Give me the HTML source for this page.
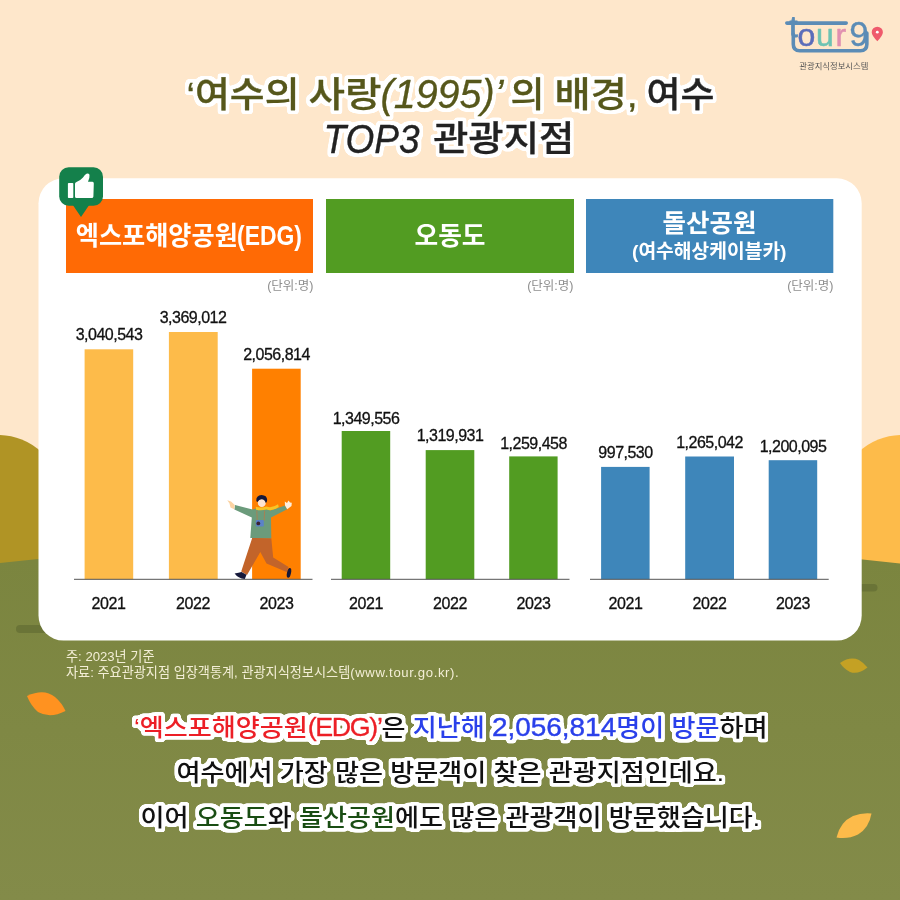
<!DOCTYPE html>
<html lang="ko">
<head>
<meta charset="utf-8">
<title>여수 TOP3 관광지점</title>
<style>
html,body{margin:0;padding:0;background:#fee7cb;}
body{width:900px;height:900px;overflow:hidden;position:relative;font-family:"Liberation Sans","Noto Sans CJK KR",sans-serif;}
svg{position:absolute;left:0;top:0;display:block}
text{font-family:"Liberation Sans","Noto Sans CJK KR",sans-serif;}
.num{font-size:16px;fill:#111;stroke:#111;stroke-width:0.3px;text-anchor:middle;letter-spacing:-0.5px}
.yr{font-size:16px;fill:#111;stroke:#111;stroke-width:0.3px;text-anchor:middle;letter-spacing:-0.4px}
.unit{font-size:12.5px;fill:#8e8e8e;text-anchor:end}
.hd{font-weight:bold;fill:#fff}
.note{font-size:13.15px;fill:#f3eed6}
.body{font-size:24.3px;font-weight:500;fill:#111;stroke:none;stroke-width:0.4px;stroke-linejoin:round;filter:url(#ol)}
.body .l{font-size:26px;letter-spacing:0px;stroke-width:0.4px}.body .e{font-size:25px;letter-spacing:-1.3px;stroke-width:0.3px}
.title{font-weight:500;stroke-width:0.3px;stroke-linejoin:round;filter:url(#ol)}
.t1{fill:#56571b;stroke:#56571b}
.t2{fill:#222;stroke:#222}
</style>
</head>
<body>
<svg width="900" height="900" viewBox="0 0 900 900">
<defs>
<filter id="ol" x="-20%" y="-40%" width="140%" height="180%" color-interpolation-filters="sRGB">
<feMorphology in="SourceAlpha" operator="dilate" radius="3.1" result="d"/>
<feGaussianBlur in="d" stdDeviation="1.1" result="b"/>
<feComponentTransfer in="b" result="t"><feFuncA type="linear" slope="6" intercept="-1.2"/></feComponentTransfer>
<feFlood flood-color="#ffffff" result="f"/>
<feComposite in="f" in2="t" operator="in" result="w"/>
<feMerge><feMergeNode in="w"/><feMergeNode in="SourceGraphic"/></feMerge>
</filter>
<linearGradient id="gg" x1="0" y1="560" x2="0" y2="900" gradientUnits="userSpaceOnUse"><stop offset="0" stop-color="#7b853f"/><stop offset="1" stop-color="#838b49"/></linearGradient>
</defs>
<!-- background -->
<rect width="900" height="900" fill="#fee7cb"/>
<path d="M-64,600 V495 A62,60 0 0 1 60,495 V600 Z" fill="#b09425"/>
<path d="M840,600 V495 A62,60 0 0 1 964,495 V600 Z" fill="#fdbb4a"/>
<path d="M0,563 Q450,512 900,563.500 V900 H0 Z" fill="url(#gg)"/>
<rect x="16" y="625" width="60" height="8" rx="4" fill="#6a7437"/>
<rect x="820" y="584" width="57.500" height="7.500" rx="3.750" fill="#6a7437"/>
<!-- leaves -->
<path d="M27,696 Q44,688 55,697 Q62,703 65.500,711 Q50,719 38,712 Q31,706 27,696 Z" fill="#ff9220"/>
<path d="M840,663 Q850,656 859,660 Q864,663 867.500,667.500 Q858,675 850,672 Q844,669 840,663 Z" fill="#c4a124"/>
<path d="M836.500,837.500 Q840,822 853,816 Q862,812.500 871.500,813.500 Q869,828 858,834.500 Q848,839.500 836.500,837.500 Z" fill="#fdbb4a"/>
<!-- card -->
<rect x="38.500" y="178.300" width="823.200" height="462.300" rx="25" fill="#ffffff"/>
<!-- headers -->
<rect x="66" y="199" width="247" height="74" fill="#ff6a05"/>
<rect x="326" y="199" width="248" height="74" fill="#529c22"/>
<rect x="586" y="199" width="247.300" height="74" fill="#3e86ba"/>
<text class="hd"><tspan x="75.800" y="244.500" font-size="26" textLength="162" lengthAdjust="spacingAndGlyphs">엑스포해양공원</tspan><tspan x="237" y="244.500" font-size="27" textLength="65" lengthAdjust="spacingAndGlyphs">(EDG)</tspan></text>
<text class="hd" x="414.500" y="244.500" font-size="26" textLength="71" lengthAdjust="spacingAndGlyphs">오동도</text>
<text class="hd" x="662.500" y="232.400" font-size="25.500" textLength="94" lengthAdjust="spacingAndGlyphs">돌산공원</text>
<text class="hd" x="632" y="257.500" font-size="19" textLength="154.500" lengthAdjust="spacingAndGlyphs">(여수해상케이블카)</text>
<text class="unit" x="313.500" y="290.300">(단위:명)</text>
<text class="unit" x="573.500" y="290.300">(단위:명)</text>
<text class="unit" x="833.500" y="290.300">(단위:명)</text>
<!-- chart 1 -->
<rect x="84.600" y="349.300" width="48.600" height="230" fill="#fdbb4a"/>
<rect x="168.900" y="332" width="48.800" height="247.300" fill="#fdbb4a"/>
<rect x="252.100" y="368.700" width="48.600" height="210.600" fill="#ff8000"/>
<rect x="74" y="578.800" width="238.500" height="1" fill="#555"/>
<text class="num" x="109" y="340">3,040,543</text>
<text class="num" x="193" y="322.500">3,369,012</text>
<text class="num" x="276.500" y="359.500">2,056,814</text>
<text class="yr" x="108.500" y="608.800">2021</text>
<text class="yr" x="193" y="608.800">2022</text>
<text class="yr" x="276.500" y="608.800">2023</text>
<!-- chart 2 -->
<rect x="341.700" y="431" width="48.500" height="148.300" fill="#529c22"/>
<rect x="425.700" y="450.100" width="48.600" height="129.200" fill="#529c22"/>
<rect x="509.200" y="456.400" width="48.400" height="122.900" fill="#529c22"/>
<rect x="331" y="578.800" width="238.500" height="1" fill="#555"/>
<text class="num" x="366" y="423.800">1,349,556</text>
<text class="num" x="450" y="441.300">1,319,931</text>
<text class="num" x="533.500" y="448.800">1,259,458</text>
<text class="yr" x="366" y="608.800">2021</text>
<text class="yr" x="450" y="608.800">2022</text>
<text class="yr" x="533.500" y="608.800">2023</text>
<!-- chart 3 -->
<rect x="601.100" y="466.900" width="48.500" height="112.400" fill="#3e86ba"/>
<rect x="685.200" y="456.500" width="48.800" height="122.800" fill="#3e86ba"/>
<rect x="768.700" y="460.200" width="48.500" height="119.100" fill="#3e86ba"/>
<rect x="590" y="578.800" width="238.700" height="1" fill="#555"/>
<text class="num" x="625.500" y="457.700" letter-spacing="-0.1">997,530</text>
<text class="num" x="709.500" y="448">1,265,042</text>
<text class="num" x="793" y="451.500">1,200,095</text>
<text class="yr" x="625.500" y="608.800">2021</text>
<text class="yr" x="709.500" y="608.800">2022</text>
<text class="yr" x="793" y="608.800">2023</text>
<!-- badge -->
<g fill="#14804b">
<rect x="59.200" y="167.200" width="43.800" height="38.500" rx="9.500"/>
<path d="M72.800,205 L81,217 L89.200,205 Z"/>
</g>
<g fill="#fff">
<rect x="67.900" y="183" width="5.400" height="15" rx="0.800"/>
<path d="M75,183.800 Q75,182.600 76.500,181.900 Q81,180 83,177.500 Q85,174.500 86.500,173.700 Q88.600,173.100 89.500,174.800 Q89.900,177.500 88,181.800 L92.500,181.800 Q93.800,182 93.800,183.500 L93.400,196.500 Q93.200,198 91.800,198 L76.500,198 Q75,198 75,196.500 Z"/>
</g>
<!-- person -->
<g>
<path d="M252.200,538 L271.300,538.300 L273.200,557.500 L288.600,567 L286.600,572 L266.500,563.500 L260.300,552 L247,575 L241.200,571.500 Z" fill="#c2642a"/>
<path d="M234.600,573.600 Q239,572.500 241.500,572 L246.500,574.800 L244.800,579 Q238,578.500 234.600,573.600 Z" fill="#15183a"/>
<ellipse cx="289" cy="572.800" rx="2" ry="5" transform="rotate(12 289 572.800)" fill="#15183a"/>
<path d="M235,505 L252.500,509.400 L257,508.200 L266,508.500 L270.400,510.600 L285,505.600 L287.200,509.200 L271,517.600 L271.300,538.300 L250.300,538 L251.800,517.600 L234.400,509.400 Z" fill="#6b9b7b"/>
<path d="M227.300,500.300 L231,501.600 L234.800,505 L234.200,509.200 L230.500,507.500 L229.500,503.500 Z" fill="#fbd3a3"/>
<path d="M285,505.600 L284.800,501.500 L287,503 L288.500,500.500 L290,502.500 L291.800,502.800 L291.500,506 L287.200,509.200 Z" fill="#fdeedd"/>
<ellipse cx="261.800" cy="502.800" rx="4" ry="4.300" fill="#fde4d2"/>
<path d="M256.300,500.500 Q256,495.500 261.500,495 Q267,495.200 267.200,500 Q267,502.500 265.800,503 Q264.800,499.500 261.500,499.300 Q259,499.500 257.500,502 Q256.400,501.500 256.300,500.500 Z" fill="#15183a"/>
<path d="M255.800,506.800 Q261,508.500 266.500,506.500 Q272,508.500 278,504.200 L278.800,507 Q272.500,511.500 266.500,509.600 Q261,511 256,509.800 Z" fill="#f8c425"/>
<path d="M256.800,510.500 L257.200,520 M264.600,510.500 L264.200,520.500" stroke="#b57a4a" stroke-width="0.800" fill="none"/>
<rect x="255.800" y="520" width="8" height="6.600" rx="1" fill="#5b82c8"/>
<circle cx="258.300" cy="523.400" r="1.900" fill="#3a2233"/>
</g>
<!-- logo -->
<g fill="none" stroke="#5b8cb6" stroke-width="3.600" stroke-linecap="round" stroke-linejoin="round">
<path d="M786.800,23.100 H846.200"/>
<path d="M793.300,34 V44.300 Q793.300,50.800 799.800,50.800 H860.300 Q866.850,50.800 866.850,44.300 V33"/>
</g>
<text stroke-linejoin="round"><tspan x="789.600" y="37.300" font-size="29" fill="#5b8cb6" stroke="#5b8cb6" stroke-width="1">t</tspan><tspan x="797.600" y="46.300" font-size="32" stroke-width="0.500" fill="#5b6dba" stroke="#5b6dba">o</tspan><tspan font-size="32" stroke-width="0.500" fill="#6cc3b3" stroke="#6cc3b3" dx="0.500">u</tspan><tspan font-size="32" stroke-width="0.500" fill="#e08fb0" stroke="#e08fb0" dx="1.800">r</tspan><tspan x="849.300" y="45.800" font-size="35" fill="#5b8cb6" stroke="#5b8cb6" stroke-width="0.300">9</tspan></text>
<path d="M877.300,41.300 Q871.700,35.500 871.700,32.300 A5.600,5.600 0 1 1 882.900,32.300 Q882.900,35.500 877.300,41.300 Z" fill="#ef5a6c"/>
<circle cx="877.300" cy="32.200" r="1.400" fill="#fff"/>
<text x="799.300" y="68.600" font-size="8.300" fill="#555" textLength="69" lengthAdjust="spacingAndGlyphs">관광지식정보시스템</text>
<!-- notes -->
<text class="note" x="66" y="660.800">주: 2023년 기준</text>
<text class="note" x="66" y="676.800">자료: 주요관광지점 입장객통계, 관광지식정보시스템<tspan letter-spacing="0.62">(www.tour.go.kr).</tspan></text>
<!-- title -->
<text class="title"><tspan class="t1" x="186.6" y="107.4" font-size="35.5" textLength="112.9" lengthAdjust="spacingAndGlyphs">‘여수의</tspan> <tspan class="t1" x="308.5" y="107.4" font-size="35.5" textLength="73.0" lengthAdjust="spacingAndGlyphs">사랑</tspan><tspan class="t1" font-style="italic" x="380.5" y="108.0" font-size="40" textLength="123.0" lengthAdjust="spacingAndGlyphs">(1995)’</tspan><tspan class="t1" x="510.5" y="107.4" font-size="35.5" textLength="34.0" lengthAdjust="spacingAndGlyphs">의</tspan> <tspan class="t1" x="554.6" y="107.4" font-size="35.5" textLength="83.1" lengthAdjust="spacingAndGlyphs">배경,</tspan> <tspan class="t2" x="646.5" y="107.4" font-size="35.5" textLength="68.0" lengthAdjust="spacingAndGlyphs">여수</tspan></text>
<text class="title"><tspan class="t2" font-style="italic" x="323.5" y="153.0" font-size="40" textLength="96.0" lengthAdjust="spacingAndGlyphs">TOP3</tspan> <tspan class="t2" x="433.0" y="150.8" font-size="35.5" textLength="141.5" lengthAdjust="spacingAndGlyphs">관광지점</tspan></text>
<!-- body -->
<text class="body" transform="translate(134.0,735.600) scale(1.0741,1)"><tspan fill="#ec1f26">‘엑스포해양공원<tspan class="e" stroke="#ec1f26">(EDG)’</tspan></tspan>은 <tspan fill="#2a40ea">지난해 <tspan class="l" stroke="#2a40ea">2,056,814</tspan>명이 방문</tspan>하며</text>
<text class="body" transform="translate(176.4,780.500) scale(1.0741,1)">여수에서 가장 많은 방문객이 찾은 관광지점인데요.</text>
<text class="body" transform="translate(140.5,825.800) scale(1.0741,1)">이어 <tspan fill="#194d13">오동도</tspan>와 <tspan fill="#194d13">돌산공원</tspan>에도 많은 관광객이 방문했습니다.</text>
</svg>
</body>
</html>
